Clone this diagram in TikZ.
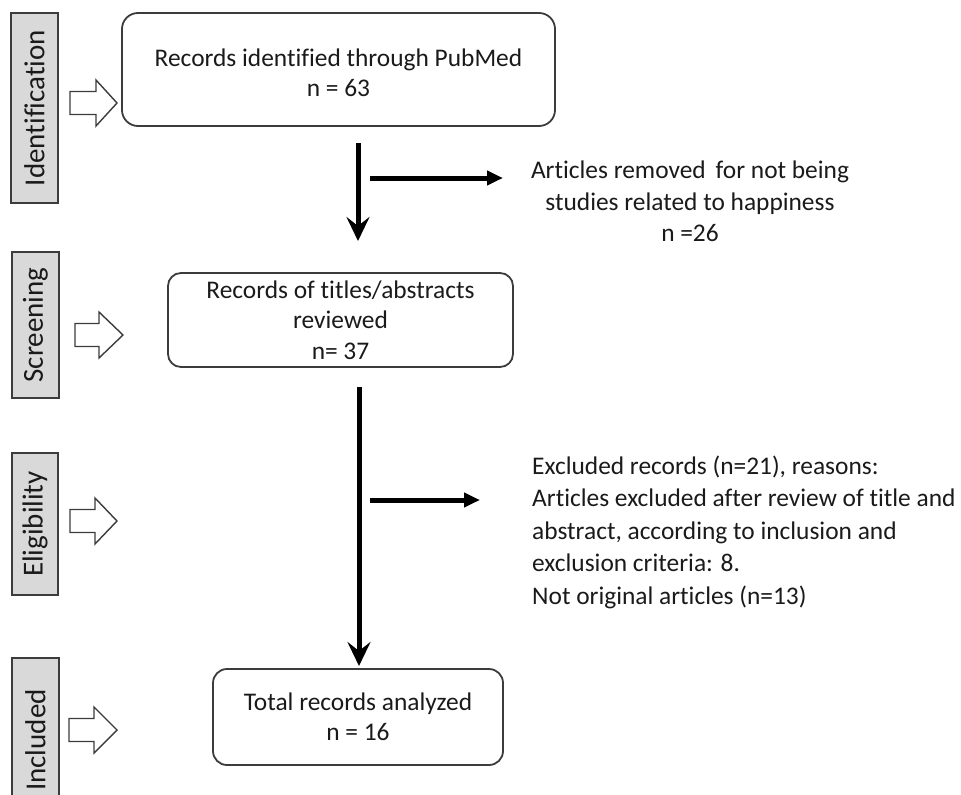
\documentclass[tikz,border=0pt]{standalone}
\usepackage{fontspec}
\setmainfont{Carlito}[Ligatures=NoCommon]
\usetikzlibrary{arrows.meta}
\definecolor{edgegray}{HTML}{3C3C3C}
\definecolor{phasegray}{HTML}{D9D9D9}
\definecolor{txt}{HTML}{1A1A1A}
\newcommand\myhollow[4]{%
  \draw[hollowarrow] (#1,#4-11.5) -- (#2,#4-11.5) -- (#2,#4-23) -- (#3,#4)
    -- (#2,#4+23) -- (#2,#4+11.5) -- (#1,#4+11.5) -- cycle;}
\begin{document}
\begin{tikzpicture}[x=1pt,y=-1pt,
  every node/.style={text=txt, font=\fontsize{25.4}{30.5}\selectfont},
  phase/.style={draw=edgegray, line width=1.8pt, fill=phasegray, rotate=90,
    inner sep=0pt, font=\fontsize{29}{34}\selectfont},
  flowbox/.style={draw=edgegray, line width=1.8pt, rounded corners=16pt,
    inner sep=0pt},
  boxtext/.style={align=center, inner sep=0pt},
  hollowarrow/.style={draw=edgegray, line width=1.4pt, fill=white, line join=miter},
  flowarrow/.style={line width=5pt, -{Stealth[length=24pt, width=23pt, inset=9pt]}},
  sidearrow/.style={line width=5pt, -{Triangle[length=16pt, width=14pt]}},
  note/.style={inner sep=0pt}
]
\useasboundingbox (0,0) rectangle (961,795);
\begin{scope}
\clip (0,0) rectangle (961,795);
% phase labels
\node[phase, minimum width=190pt, minimum height=47pt] (pid) at (34.5,108) {Identification};
\node[phase, minimum width=146pt, minimum height=47pt] (psc) at (35.5,325) {Screening};
\node[phase, minimum width=142pt, minimum height=46pt] (pel) at (35,524) {Eligibility};
\node[phase, minimum width=164pt, minimum height=47pt] (pin) at (35.5,740) {Included};
\end{scope}
% hollow arrows
\myhollow{70}{96}{117}{103}
\myhollow{75}{99}{123}{335}
\myhollow{70}{95}{117}{521}
\myhollow{69}{94}{117}{730}
% boxes
\node[flowbox, minimum width=433pt, minimum height=113pt] (b1) at (338.5,69.5) {};
\node[boxtext] (t1) at (338.5,73) {Records identified through PubMed\\n = 63};
\node[flowbox, minimum width=345pt, minimum height=94pt, rounded corners=13pt] (b2) at (340.5,320) {};
\node[boxtext] (t2) at (340.5,320) {Records of titles/abstracts\\reviewed\\n= 37};
\node[flowbox, minimum width=290pt, minimum height=96pt, rounded corners=14pt] (b3) at (358,717) {};
\node[boxtext] (t3) at (358,717) {Total records analyzed\\n = 16};
% side notes
\node[note, align=center, font=\fontsize{25.4}{31.5}\selectfont] (n1) at (690,201.5)
  {Articles removed\, for not being\\studies related to happiness\\n =26};
\node[note, align=left, anchor=west, font=\fontsize{25.4}{32.5}\selectfont] (n2) at (532,532)
  {Excluded records (n=21), reasons:\\Articles excluded after review of title and\\abstract, according to inclusion and\\exclusion criteria: 8.\\Not original articles (n=13)};
% connector coordinates
\coordinate (d1s) at (358,143);
\coordinate (d1e) at (358,241);
\coordinate (h1s) at (370,178);
\coordinate (h1e) at (503,178);
\coordinate (d2s) at (359,387);
\coordinate (d2e) at (359,666);
\coordinate (h2s) at (370,500);
\coordinate (h2e) at (480,500);
\draw[flowarrow] (d1s) -- (d1e);
\draw[sidearrow] (h1s) -- (h1e);
\draw[flowarrow] (d2s) -- (d2e);
\draw[sidearrow] (h2s) -- (h2e);
\end{tikzpicture}
\end{document}
